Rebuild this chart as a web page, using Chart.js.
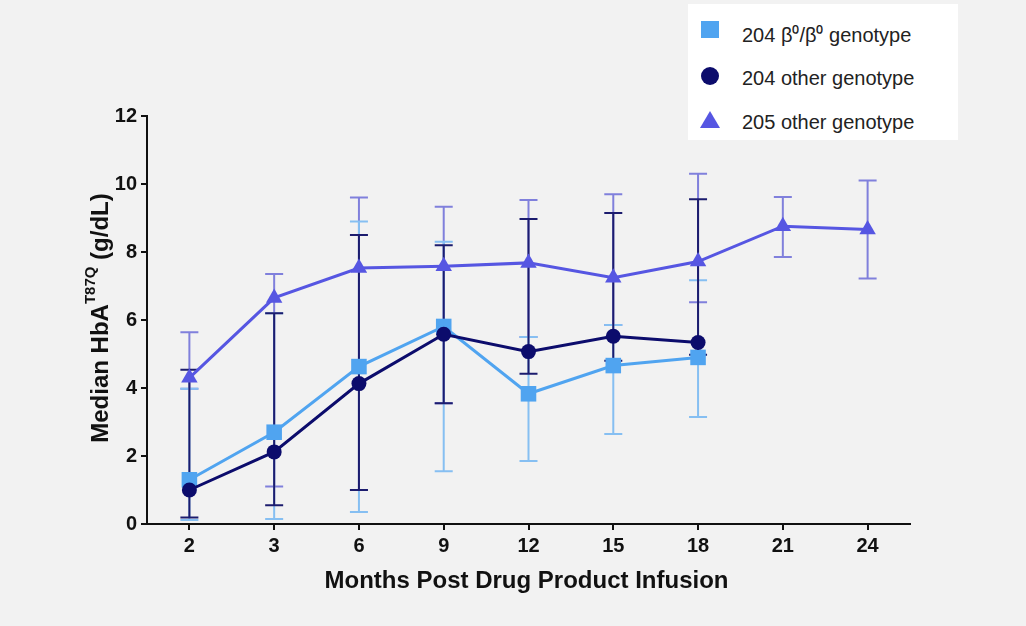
<!DOCTYPE html>
<html>
<head>
<meta charset="utf-8">
<script src="https://cdn.jsdelivr.net/npm/chart.js@4/dist/chart.umd.min.js"></script>
<style>
  html, body { margin: 0; padding: 0; background: #f2f2f2; }
  #wrap { position: relative; width: 1026px; height: 626px; }
  canvas { position: absolute; left: 0; top: 0; }
  #legend { position: absolute; left: 688px; top: 4px; width: 270px; height: 136px; background: #ffffff;
            font-family: "Liberation Sans", Arial, sans-serif; font-size: 20px; color: #222; }
  .item { position: absolute; left: 0; height: 30px; width: 270px; }
  .item svg { position: absolute; left: 12px; top: 2px; }
  .item span { position: absolute; left: 54px; top: 3px; white-space: nowrap; }
</style>
</head>
<body>
<div id="wrap">
  <canvas id="c" width="1026" height="626"></canvas>
  <div id="legend"></div>
</div>
<script>
// ---- data ----
const categories = ['2', '3', '6', '9', '12', '15', '18', '21', '24'];
const seriesNames = ['204 \u03B2\u2070/\u03B2\u2070 genotype', '204 other genotype', '205 other genotype'];

const b0Median = [1.3, 2.7, 4.63, 5.81, 3.83, 4.66, 4.9, null, null];
const b0Low    = [0.12, 0.15, 0.35, 1.55, 1.85, 2.65, 3.15, null, null];
const b0High   = [3.98, 6.2, 8.9, 8.3, 5.5, 5.85, 7.17, null, null];

const otherMedian = [1.0, 2.12, 4.13, 5.58, 5.07, 5.52, 5.34, null, null];
const otherLow    = [0.19, 0.55, 1.0, 3.55, 4.42, 4.8, 4.98, null, null];
const otherHigh   = [4.54, 6.2, 8.5, 8.2, 8.97, 9.15, 9.55, null, null];

const s205Median = [4.3, 6.65, 7.53, 7.58, 7.68, 7.24, 7.72, 8.76, 8.66];
const s205Low    = [3.98, 1.1, 1.0, 3.55, 5.5, 5.85, 6.52, 7.85, 7.22];
const s205High   = [5.64, 7.35, 9.6, 9.33, 9.53, 9.7, 10.3, 9.62, 10.1];

const yTicks = { min: 0, max: 12, step: 2 };

// ---- styles ----
const FONT = '"Liberation Sans", Arial, sans-serif';
const colB0 = '#50a4f0', colOther = '#0c0c6c', col205 = '#5656e2';
const errB0 = '#86bff2', errOther = '#1c1c6e', err205 = '#8080dc';

// legend (HTML)
const legendDefs = [
  { name: seriesNames[0], svg: '<rect x="1" y="1" width="18" height="17" fill="' + colB0 + '"/>' },
  { name: seriesNames[1], svg: '<circle cx="10" cy="10" r="9" fill="' + colOther + '"/>' },
  { name: seriesNames[2], svg: '<polygon points="10,1 20,18 0,18" fill="' + col205 + '"/>' }
];
const legendTops = [14, 60, 104];
const legendEl = document.getElementById('legend');
legendDefs.forEach((d, i) => {
  const it = document.createElement('div');
  it.className = 'item';
  it.style.top = legendTops[i] + 'px';
  it.innerHTML = '<svg width="22" height="22">' + d.svg + '</svg><span>' + d.name + '</span>';
  legendEl.appendChild(it);
});

const errorSets = [
  { low: s205Low, high: s205High, color: err205 },
  { low: b0Low, high: b0High, color: errB0 },
  { low: otherLow, high: otherHigh, color: errOther }
];

const errorBarPlugin = {
  id: 'errorBars',
  beforeDatasetsDraw(chart) {
    const ctx = chart.ctx, xs = chart.scales.x, ys = chart.scales.y;
    ctx.save();
    errorSets.forEach(es => {
      ctx.strokeStyle = es.color;
      ctx.lineWidth = 2;
      for (let j = 0; j < categories.length; j++) {
        if (es.low[j] == null) continue;
        const x = xs.getPixelForValue(j);
        const yl = ys.getPixelForValue(es.low[j]);
        const yh = ys.getPixelForValue(es.high[j]);
        ctx.beginPath();
        ctx.moveTo(x, yl); ctx.lineTo(x, yh);
        ctx.moveTo(x - 9, yl); ctx.lineTo(x + 9, yl);
        ctx.moveTo(x - 9, yh); ctx.lineTo(x + 9, yh);
        ctx.stroke();
      }
    });
    ctx.restore();
  }
};

const titlePlugin = {
  id: 'axisTitles',
  afterDraw(chart) {
    const ctx = chart.ctx, ca = chart.chartArea;
    ctx.save();
    ctx.fillStyle = '#111';
    // x title
    ctx.font = 'bold 24px ' + FONT;
    ctx.textAlign = 'center';
    ctx.textBaseline = 'alphabetic';
    ctx.fillText('Months Post Drug Product Infusion', (ca.left + ca.right) / 2 - 2, 588);
    // y title with superscript
    const mainFont = 'bold 24px ' + FONT, supFont = 'bold 15px ' + FONT;
    const p1 = 'Median HbA', p2 = 'T87Q', p3 = ' (g/dL)';
    ctx.font = mainFont; const w1 = ctx.measureText(p1).width, w3 = ctx.measureText(p3).width;
    ctx.font = supFont; const w2 = ctx.measureText(p2).width;
    const total = w1 + w2 + w3;
    const cy = 318;
    ctx.translate(108, cy);
    ctx.rotate(-Math.PI / 2);
    ctx.textAlign = 'left';
    let x0 = -total / 2;
    ctx.font = mainFont; ctx.fillText(p1, x0, 0); x0 += w1;
    ctx.font = supFont; ctx.fillText(p2, x0, -13); x0 += w2;
    ctx.font = mainFont; ctx.fillText(p3, x0, 0);
    ctx.restore();
  }
};

new Chart(document.getElementById('c'), {
  type: 'line',
  data: {
    labels: categories,
    datasets: [
      { label: seriesNames[1], data: otherMedian, borderColor: colOther, backgroundColor: colOther,
        pointStyle: 'circle', pointRadius: 7.5, borderWidth: 3, pointBorderWidth: 0 },
      { label: seriesNames[0], data: b0Median, borderColor: colB0, backgroundColor: colB0,
        pointStyle: 'rect', pointRadius: 11, borderWidth: 3, pointBorderWidth: 0 },
      { label: seriesNames[2], data: s205Median, borderColor: col205, backgroundColor: col205,
        pointStyle: 'triangle', pointRadius: 9.5, borderWidth: 3, pointBorderWidth: 0 }
    ]
  },
  options: {
    responsive: false,
    animation: false,
    devicePixelRatio: 1,
    layout: { padding: { left: 87, right: 116, top: 116, bottom: 62 } },
    plugins: { legend: { display: false }, tooltip: { enabled: false } },
    scales: {
      x: {
        offset: true,
        grid: { display: true, offset: false, drawOnChartArea: false, drawTicks: true, tickLength: 6, color: '#111', lineWidth: 2 },
        border: { display: true, color: '#111', width: 2 },
        ticks: { color: '#111', font: { family: FONT, size: 20, weight: 'bold' }, padding: 4, maxRotation: 0 },
        afterFit(s) { s.height = 40; }
      },
      y: {
        min: yTicks.min, max: yTicks.max,
        grid: { display: true, drawOnChartArea: false, drawTicks: true, tickLength: 6, color: '#111', lineWidth: 2 },
        border: { display: true, color: '#111', width: 2 },
        ticks: { stepSize: yTicks.step, color: '#111', font: { family: FONT, size: 20, weight: 'bold' }, padding: 4 },
        afterFit(s) { s.width = 60; }
      }
    }
  },
  plugins: [errorBarPlugin, titlePlugin]
});
</script>
</body>
</html>
